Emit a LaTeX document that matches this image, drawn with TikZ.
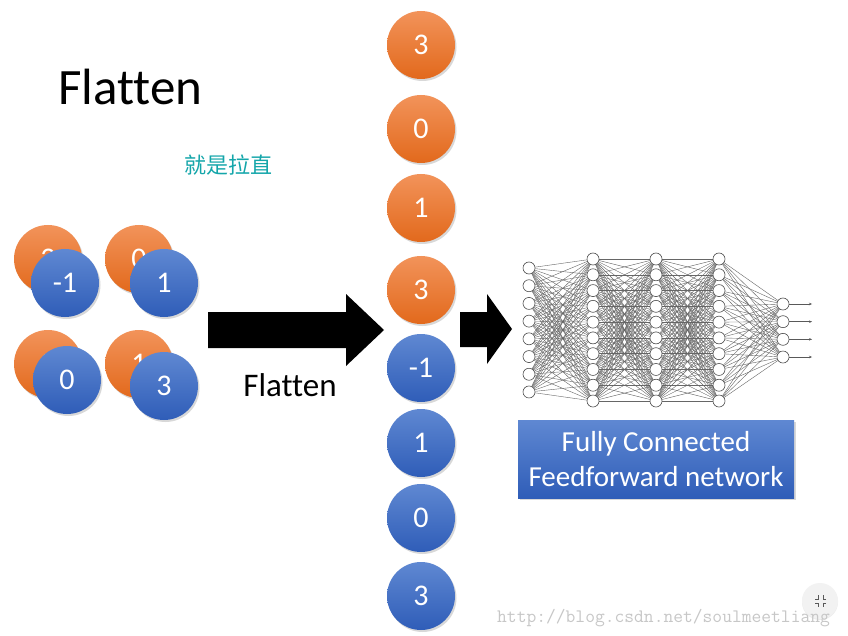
\documentclass[tikz,border=0pt]{standalone}
\usepackage{fontspec}
\setmainfont{Carlito}[Ligatures=NoCommon]
\newfontfamily\cjk{Noto Sans CJK SC}
\usetikzlibrary{shadows,arrows.meta}
\pgfdeclarelayer{back}
\pgfdeclarelayer{edges}
\pgfsetlayers{back,edges,main}
\definecolor{orTop}{HTML}{F2935A}
\definecolor{orBot}{HTML}{E2691C}
\definecolor{blTop}{HTML}{5F88D2}
\definecolor{blBot}{HTML}{2F5DB8}
\definecolor{zhcol}{HTML}{14A6AA}
\tikzset{
  ball/.style={circle, minimum size=68pt, inner sep=0pt, draw=none, text=white,
    font=\fontsize{30}{32}\selectfont,
    drop shadow={shadow xshift=1.5pt, shadow yshift=-2pt, opacity=0.3}},
  orball/.style={ball, top color=orTop, bottom color=orBot},
  blball/.style={ball, top color=blTop, bottom color=blBot},
  neuron/.style={circle, minimum size=12pt, inner sep=0pt, draw=black!70, fill=white, line width=0.6pt},
  synapse/.style={draw=black!60, line width=0.4pt},
  blockarrow/.style={fill=black, draw=none},
}
\begin{document}
\begin{tikzpicture}[x=1pt,y=-1pt]
\begin{pgfonlayer}{back}
\fill[white] (0,0) rectangle (848,636);
\end{pgfonlayer}
\useasboundingbox (0,0) rectangle (848,636);

% title and note
\node[anchor=base west, font=\fontsize{51}{60}\selectfont, inner sep=0pt] (title) at (58,105) {Flatten};
\node[text=zhcol, font=\cjk\fontsize{22}{26}\selectfont] (zh) at (228,165) {就是拉直};

% left 2x2 feature maps
\node[orball] (o1) at (48,259) {3};
\node[blball] (b1) at (65,283) {-1};
\node[orball] (o2) at (139,259) {0};
\node[blball] (b2) at (164,283) {1};
\node[orball] (o3) at (48,364) {3};
\node[blball] (b3) at (67,380) {0};
\node[orball] (o4) at (139,364) {1};
\node[blball] (b4) at (164,386) {3};

% big arrow
\fill[blockarrow] (208,312) -- (346,312) -- (346,294) -- (384,330) -- (346,366) -- (346,348) -- (208,348) -- cycle;
\node[anchor=base, font=\fontsize{33}{36}\selectfont, inner sep=0pt] (flab) at (290,396) {Flatten};

% flattened column
\node[orball] (c1) at (421,45) {3};
\node[orball] (c2) at (421,129) {0};
\node[orball] (c3) at (421,208) {1};
\node[orball] (c4) at (421,290) {3};
\node[blball] (c5) at (421,368) {-1};
\node[blball] (c6) at (421,443) {1};
\node[blball] (c7) at (421,518) {0};
\node[blball] (c8) at (421,596) {3};

% small arrow
\fill[blockarrow] (460,312) -- (487,312) -- (487,294) -- (512,329) -- (487,364) -- (487,347) -- (460,347) -- cycle;

% network
\foreach \i in {1,...,8} \node[neuron] (na\i) at (529,{268+(\i-1)*17.71}) {};
\foreach \i in {1,...,10} {
  \node[neuron] (nb\i) at (593,{259+(\i-1)*15.78}) {};
  \node[neuron] (nc\i) at (656,{259+(\i-1)*15.78}) {};
  \node[neuron] (nd\i) at (719,{259+(\i-1)*15.78}) {};
}
\foreach \i in {1,...,4} {
  \node[neuron] (ne\i) at (783,{304+(\i-1)*17.67}) {};
  \coordinate (out\i) at (812,{304+(\i-1)*17.67});
}
\begin{pgfonlayer}{edges}
\foreach \i in {1,...,8} \foreach \j in {1,...,10} \draw[synapse] (na\i) -- (nb\j);
\foreach \i in {1,...,10} \foreach \j in {1,...,10} {
  \draw[synapse] (nb\i) -- (nc\j);
  \draw[synapse] (nc\i) -- (nd\j);
}
\foreach \i in {1,...,10} \foreach \j in {1,...,4} \draw[synapse] (nd\i) -- (ne\j);
\end{pgfonlayer}
\foreach \i in {1,...,4} \draw[synapse, draw=black!65, -{Stealth[length=3pt,width=2.5pt]}] (ne\i) -- (out\i);

% label box
\node[rectangle, minimum width=276pt, minimum height=78pt, inner sep=0pt,
  top color=blTop, bottom color=blBot, text=white, align=center,
  font=\fontsize{29}{35}\selectfont,
  drop shadow={shadow xshift=1.5pt, shadow yshift=-2pt, opacity=0.3}] (fc) at (656,459)
  {Fully Connected\\Feedforward network};

% corner button and watermark
\node[circle, minimum size=36pt, inner sep=0pt, fill=black!5,
  drop shadow={shadow xshift=0pt, shadow yshift=-1pt, opacity=0.15}] (btn) at (820,601) {};
\begin{scope}[draw=black!65, line width=1pt]
\draw (815,599) -- (818,599) -- (818,595);
\draw (826,599) -- (823,599) -- (823,595);
\draw (815,603) -- (818,603) -- (818,607);
\draw (826,603) -- (823,603) -- (823,607);
\end{scope}
\node[anchor=base west, inner sep=0pt, text=black!22, font=\ttfamily\fontsize{19}{20}\selectfont] (wm) at (497,622) {http://blog.csdn.net/soulmeetliang};
\end{tikzpicture}
\end{document}
